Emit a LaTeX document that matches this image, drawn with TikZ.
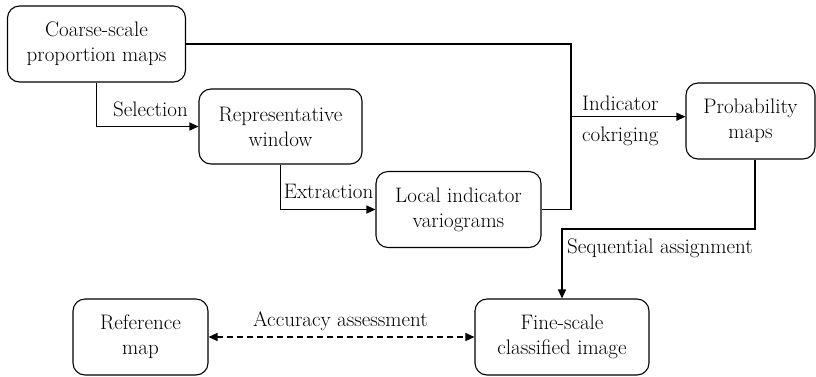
\documentclass[tikz,border=0pt]{standalone}
\usepackage{fontspec}
\usetikzlibrary{arrows.meta}
\begin{document}
\begin{tikzpicture}[x=1pt,y=-1pt,
  box/.style={draw, rounded corners=12pt, line width=1.1pt, align=center, inner sep=0pt,
    font=\rmfamily\fontsize{21}{25}\selectfont},
  lbl/.style={font=\rmfamily\fontsize{21}{25}\selectfont, inner sep=0pt},
  conn/.style={line width=1.2pt, -{Triangle[length=9pt,width=8pt]}},
  plain/.style={line width=1.2pt},
]
\useasboundingbox (0,0) rectangle (816,376);
\node[box, minimum width=178pt, minimum height=76pt] (coarse) at (96.5,44) {Coarse-scale\\proportion maps};
\node[box, minimum width=163pt, minimum height=75pt] (rep) at (280.5,126.5) {Representative\\window};
\node[box, minimum width=165pt, minimum height=76pt] (local) at (458.5,209.5) {Local indicator\\variograms};
\node[box, minimum width=129pt, minimum height=76pt] (prob) at (750.5,121) {Probability\\maps};
\node[box, minimum width=174pt, minimum height=76pt] (fine) at (562,337) {Fine-scale\\classified image};
\node[box, minimum width=135pt, minimum height=76pt] (ref) at (140.5,337) {Reference\\map};

\coordinate (j) at (571,116.7);
\coordinate (k) at (562,229);

\draw[conn] (coarse.south) |- (rep.west);
\draw[conn] (rep.south) |- (local.west);
\draw[plain] (coarse.east) -| (j) |- (local.east);
\draw[conn] (j) -- (j -| prob.west);
\draw[conn] ([xshift=4.5pt]prob.south) |- (k) -- (k |- fine.north);
\draw[line width=1.2pt, dash pattern=on 6pt off 4pt,
  {Triangle[length=9pt,width=8pt]}-{Triangle[length=9pt,width=8pt]}] (ref.east) -- (fine.west);

\node[lbl, anchor=base east] (lsel) at (188,116.7) {Selection};
\node[lbl, anchor=base east] (lext) at (373.5,198) {Extraction};
\node[lbl, anchor=base west] (lind) at (582,110.7) {Indicator};
\node[lbl, anchor=base west] (lcok) at (582,141.5) {cokriging};
\node[lbl, anchor=base west] (lseq) at (567,253) {Sequential assignment};
\node[lbl, anchor=base] (lacc) at (340.5,326) {Accuracy assessment};
\end{tikzpicture}
\end{document}
